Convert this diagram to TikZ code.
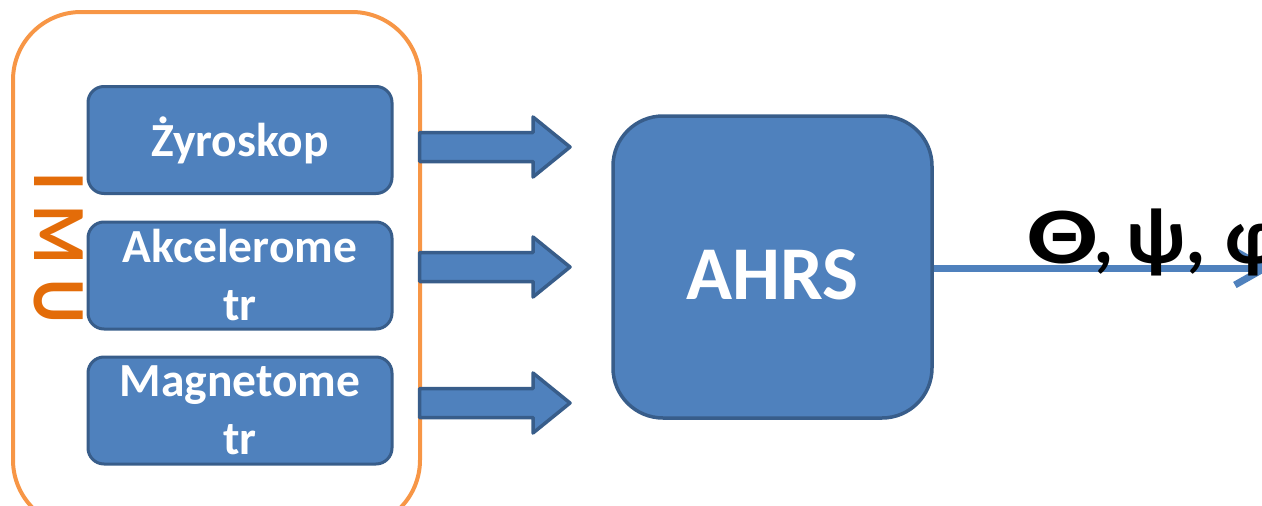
\documentclass[tikz,border=0pt]{standalone}
\usepackage{fontspec}
\setmainfont{Carlito}
\usetikzlibrary{arrows.meta}
\definecolor{bfill}{HTML}{4F81BD}
\definecolor{bline}{HTML}{385D8A}
\definecolor{orangeline}{HTML}{F79646}
\definecolor{imutext}{HTML}{E36C09}
\begin{document}
\begin{tikzpicture}[x=1pt,y=-1pt,
  subbox/.style={draw=bline, fill=bfill, line width=3pt, rounded corners=16pt,
    minimum width=304pt, minimum height=107pt, inner sep=0pt, text=white,
    align=center, font=\fontsize{47.5}{58}\selectfont\bfseries},
  blockarrow/.style={draw=bline, fill=bfill, line width=3.5pt, line join=round},
  bigbox/.style={draw=bline, fill=bfill, line width=3.5pt, rounded corners=50pt,
    minimum width=319pt, minimum height=302pt, inner sep=0pt},
  whitelbl/.style={text=white, inner sep=0pt, font=\fontsize{76}{76}\selectfont\bfseries}]
\useasboundingbox (0,0) rectangle (1262,506);
\clip (0,0) rectangle (1262,506);
% IMU frame
\node[draw=orangeline, line width=4pt, rounded corners=68pt, minimum width=407pt,
  minimum height=516pt, inner sep=0pt] (imu) at (216.5,270) {};
\node[text=imutext, inner sep=0pt, font=\fontsize{67}{67}\selectfont\bfseries,
  rotate=-90, yscale=1.12] (imulbl) at (59,248) {I M U};
% sensors
\node[subbox] (gyro) at (240,140) {Żyroskop};
\node[subbox] (acc) at (240,275.5) {Akcelerome\\tr};
\node[subbox] (mag) at (240,410.5) {Magnetome\\tr};
% block arrows
\foreach \c in {147,267,403}
  \draw[blockarrow] (419.5,{\c-14.5}) -- (533,{\c-14.5}) -- (533,{\c-30})
    -- (570,\c) -- (533,{\c+30}) -- (533,{\c+14.5}) -- (419.5,{\c+14.5}) -- cycle;
% AHRS
\node[bigbox] (ahrs) at (772.5,267) {};
\node[whitelbl] (ahrslbl) at (772.5,275) {AHRS};
% output
\coordinate (tip) at (1272,268);
\draw[bfill, line width=7pt, -{Straight Barb[length=30pt,width=34pt]}] (ahrs.east |- tip) -- (tip);
\node[anchor=base west, inner sep=0pt, font=\fontsize{80}{80}\selectfont\bfseries] (angles) at (1027,263)
  {\scalebox{1.3}[1]{Θ}\kern-4pt, \kern-6pt ψ,\hspace{20pt}φ};
\end{tikzpicture}
\end{document}
